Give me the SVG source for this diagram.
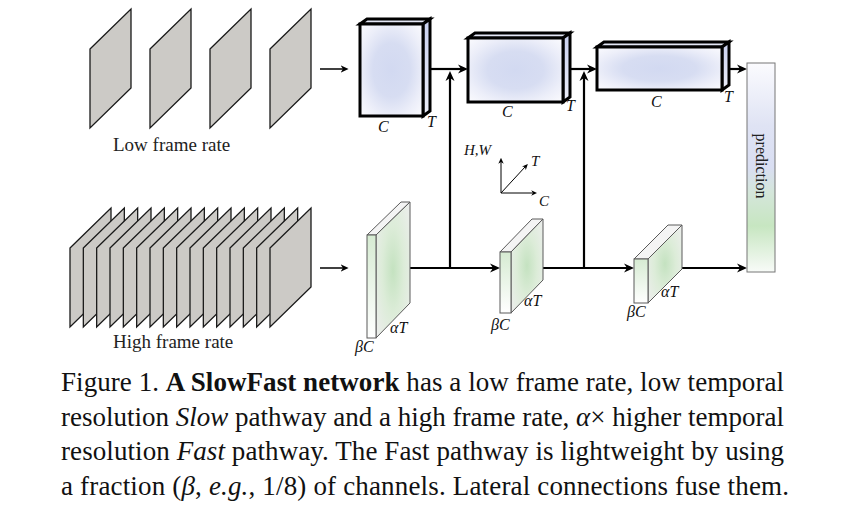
<svg xmlns="http://www.w3.org/2000/svg" xmlns:xlink="http://www.w3.org/1999/xlink" width="863" height="514" viewBox="0 0 863 514">
  <style>
    .frame { fill: #cccac6; stroke: #1a1a1a; stroke-width: 1.3; stroke-linejoin: miter; }
    .slow { stroke: #000; stroke-width: 3; stroke-linejoin: miter; }
    .fast { stroke: #5a5a5a; stroke-width: 1; stroke-linejoin: miter; }
    .lbl { font-family: "Liberation Serif", "Times New Roman", serif; font-style: italic; font-size: 16px; fill: #111; }
    .sm { font-size: 15px; }
    .cap { font-family: "Liberation Serif", "Times New Roman", serif; font-size: 27px; fill: #111; }
    .rate { font-family: "Liberation Serif", "Times New Roman", serif; font-size: 19px; fill: #222; }
    .wire { stroke: #000; stroke-width: 2.2; fill: none; }
    .wire-in { stroke: #000; stroke-width: 1.5; fill: none; }
    .axis { stroke: #000; stroke-width: 1; fill: none; }
  </style>
  <defs>
    <polygon id="frame" points="0,40 41,0 41,79 0,119"/>
    <marker id="ah" viewBox="0 0 10 10" markerUnits="userSpaceOnUse" markerWidth="10" markerHeight="10" refX="3" refY="5" orient="auto">
      <path d="M0,0.5 L10,5 L0,9.5 L3,5 Z" fill="#000"/>
    </marker>
    <marker id="ah-in" viewBox="0 0 10 10" markerUnits="userSpaceOnUse" markerWidth="8" markerHeight="8" refX="3" refY="5" orient="auto">
      <path d="M0,0.5 L10,5 L0,9.5 L3,5 Z" fill="#000"/>
    </marker>
    <marker id="ah-ax" viewBox="0 0 10 10" markerUnits="userSpaceOnUse" markerWidth="6" markerHeight="6" refX="3" refY="5" orient="auto">
      <path d="M0,0.5 L10,5 L0,9.5 L3,5 Z" fill="#000"/>
    </marker>
    <radialGradient id="gSlowFront" cx="0.5" cy="0.5" r="0.7">
      <stop offset="0" stop-color="#d2d9f1"/>
      <stop offset="0.42" stop-color="#d7ddf2"/>
      <stop offset="0.72" stop-color="#eceef9"/>
      <stop offset="1" stop-color="#fbfbfe"/>
    </radialGradient>
    <linearGradient id="gSlowSide" x1="0" y1="0" x2="0" y2="1">
      <stop offset="0" stop-color="#c8cfee"/>
      <stop offset="1" stop-color="#eceef9"/>
    </linearGradient>
    <radialGradient id="gFastSide" cx="0.5" cy="0.5" r="0.7">
      <stop offset="0" stop-color="#c4e2c0"/>
      <stop offset="0.45" stop-color="#dcecd8"/>
      <stop offset="1" stop-color="#eeeeee"/>
    </radialGradient>
    <linearGradient id="gFastFront" x1="0" y1="0" x2="0" y2="1">
      <stop offset="0" stop-color="#d6ebd2"/>
      <stop offset="1" stop-color="#ffffff"/>
    </linearGradient>
    <linearGradient id="gPred" x1="0" y1="0" x2="0" y2="1">
      <stop offset="0" stop-color="#fbfbfe"/>
      <stop offset="0.3" stop-color="#dfe3f4"/>
      <stop offset="0.5" stop-color="#d9def2"/>
      <stop offset="0.62" stop-color="#d4e6da"/>
      <stop offset="0.78" stop-color="#c7e6c1"/>
      <stop offset="1" stop-color="#f8fbf8"/>
    </linearGradient>
  </defs>

  <rect width="863" height="514" fill="#fff"/>

  <!-- input clips -->
  <g id="slow-frames">
    <use href="#frame" class="frame" x="90" y="9"/>
    <use href="#frame" class="frame" x="150" y="9"/>
    <use href="#frame" class="frame" x="210" y="9"/>
    <use href="#frame" class="frame" x="270" y="9"/>
    <text class="rate" x="113" y="151">Low frame rate</text>
  </g>
  <g id="fast-frames">
    <use href="#frame" class="frame" x="70" y="208"/>
    <use href="#frame" class="frame" x="83.33" y="208"/>
    <use href="#frame" class="frame" x="96.67" y="208"/>
    <use href="#frame" class="frame" x="110" y="208"/>
    <use href="#frame" class="frame" x="123.33" y="208"/>
    <use href="#frame" class="frame" x="136.67" y="208"/>
    <use href="#frame" class="frame" x="150" y="208"/>
    <use href="#frame" class="frame" x="163.33" y="208"/>
    <use href="#frame" class="frame" x="176.67" y="208"/>
    <use href="#frame" class="frame" x="190" y="208"/>
    <use href="#frame" class="frame" x="203.33" y="208"/>
    <use href="#frame" class="frame" x="216.67" y="208"/>
    <use href="#frame" class="frame" x="230" y="208"/>
    <use href="#frame" class="frame" x="243.33" y="208"/>
    <use href="#frame" class="frame" x="256.67" y="208"/>
    <use href="#frame" class="frame" x="270" y="208"/>
    <text class="rate" x="113" y="348">High frame rate</text>
  </g>

  <!-- connectors -->
  <g id="connectors">
    <line class="wire-in" x1="320" y1="69" x2="343" y2="69" marker-end="url(#ah-in)"/>
    <line class="wire-in" x1="320" y1="268" x2="343" y2="268" marker-end="url(#ah-in)"/>
    <line class="wire" x1="430" y1="69" x2="461" y2="69" marker-end="url(#ah)"/>
    <line class="wire" x1="570" y1="69" x2="590" y2="69" marker-end="url(#ah)"/>
    <line class="wire" x1="729" y1="69" x2="740" y2="69" marker-end="url(#ah)"/>
    <line class="wire" x1="410" y1="268" x2="493" y2="268" marker-end="url(#ah)"/>
    <line class="wire" x1="543" y1="268" x2="627" y2="268" marker-end="url(#ah)"/>
    <line class="wire" x1="682" y1="268" x2="740" y2="268" marker-end="url(#ah)"/>
    <line class="wire" x1="450" y1="269" x2="450" y2="78" marker-end="url(#ah)"/>
    <line class="wire" x1="584" y1="269" x2="584" y2="78" marker-end="url(#ah)"/>
  </g>

  <!-- Slow pathway stages -->
  <g id="slow-1">
    <polygon class="slow" points="360,24 367,19 430,19 423,24" fill="#e3e6f5"/>
    <polygon class="slow" points="423,24 430,19 430,111 423,116" fill="url(#gSlowSide)"/>
    <rect class="slow" x="360" y="24" width="63" height="92" fill="url(#gSlowFront)"/>
    <text class="lbl" x="378" y="132">C</text>
    <text class="lbl" x="427" y="127">T</text>
  </g>
  <g id="slow-2">
    <polygon class="slow" points="468,38 475,33 570,33 563,38" fill="#e3e6f5"/>
    <polygon class="slow" points="563,38 570,33 570,97 563,102" fill="url(#gSlowSide)"/>
    <rect class="slow" x="468" y="38" width="95" height="64" fill="url(#gSlowFront)"/>
    <text class="lbl" x="502" y="117">C</text>
    <text class="lbl" x="566" y="111">T</text>
  </g>
  <g id="slow-3">
    <polygon class="slow" points="597,47 604,42 729,42 722,47" fill="#e3e6f5"/>
    <polygon class="slow" points="722,47 729,42 729,85 722,90" fill="url(#gSlowSide)"/>
    <rect class="slow" x="597" y="47" width="125" height="43" fill="url(#gSlowFront)"/>
    <text class="lbl" x="651" y="107">C</text>
    <text class="lbl" x="724" y="102">T</text>
  </g>

  <!-- Fast pathway stages -->
  <g id="fast-1">
    <polygon class="fast" points="367,235 401,202 410,202 376,235" fill="#f4f4f4"/>
    <polygon class="fast" points="376,235 410,202 410,303 376,338" fill="url(#gFastSide)"/>
    <rect class="fast" x="367" y="235" width="9" height="103" fill="url(#gFastFront)"/>
    <text class="lbl" x="390" y="333">αT</text>
    <text class="lbl" x="355" y="352">βC</text>
  </g>
  <g id="fast-2">
    <polygon class="fast" points="500,252 532,219 543,219 511,252" fill="#f4f4f4"/>
    <polygon class="fast" points="511,252 543,219 543,280 511,313" fill="url(#gFastSide)"/>
    <rect class="fast" x="500" y="252" width="11" height="61" fill="url(#gFastFront)"/>
    <text class="lbl" x="524" y="306">αT</text>
    <text class="lbl" x="491" y="330">βC</text>
  </g>
  <g id="fast-3">
    <polygon class="fast" points="634,259 668,225 682,225 648,259" fill="#f4f4f4"/>
    <polygon class="fast" points="648,259 682,225 682,269 648,303" fill="url(#gFastSide)"/>
    <rect class="fast" x="634" y="259" width="14" height="44" fill="url(#gFastFront)"/>
    <text class="lbl" x="661" y="297">αT</text>
    <text class="lbl" x="627" y="317">βC</text>
  </g>

  <!-- prediction head -->
  <g id="prediction">
    <rect x="747" y="63" width="28" height="209" fill="url(#gPred)" stroke="#777" stroke-width="1"/>
    <text transform="translate(756,166) rotate(90)" text-anchor="middle" font-family="Liberation Serif, Times New Roman, serif" font-size="16" fill="#222">prediction</text>
  </g>

  <!-- axis legend -->
  <g id="axes">
    <line class="axis" x1="501" y1="193" x2="501" y2="162" marker-end="url(#ah-ax)"/>
    <line class="axis" x1="501" y1="193" x2="533" y2="193" marker-end="url(#ah-ax)"/>
    <line class="axis" x1="501" y1="193" x2="525" y2="167" marker-end="url(#ah-ax)"/>
    <text class="lbl sm" x="464" y="155">H,W</text>
    <text class="lbl sm" x="531" y="166">T</text>
    <text class="lbl sm" x="539" y="206">C</text>
  </g>

  <!-- caption -->
  <g id="caption" class="cap">
    <text x="61" y="391" textLength="723" lengthAdjust="spacing">Figure 1. <tspan font-weight="bold">A SlowFast network</tspan> has a low frame rate, low temporal</text>
    <text x="61" y="426" textLength="723" lengthAdjust="spacing">resolution <tspan font-style="italic">Slow</tspan> pathway and a high frame rate, <tspan font-style="italic">α</tspan>× higher temporal</text>
    <text x="61" y="460" textLength="723" lengthAdjust="spacing">resolution <tspan font-style="italic">Fast</tspan> pathway. The Fast pathway is lightweight by using</text>
    <text x="61" y="495" textLength="728" lengthAdjust="spacing">a fraction (<tspan font-style="italic">β</tspan>, <tspan font-style="italic">e.g.</tspan>, 1/8) of channels. Lateral connections fuse them.</text>
  </g>
</svg>
